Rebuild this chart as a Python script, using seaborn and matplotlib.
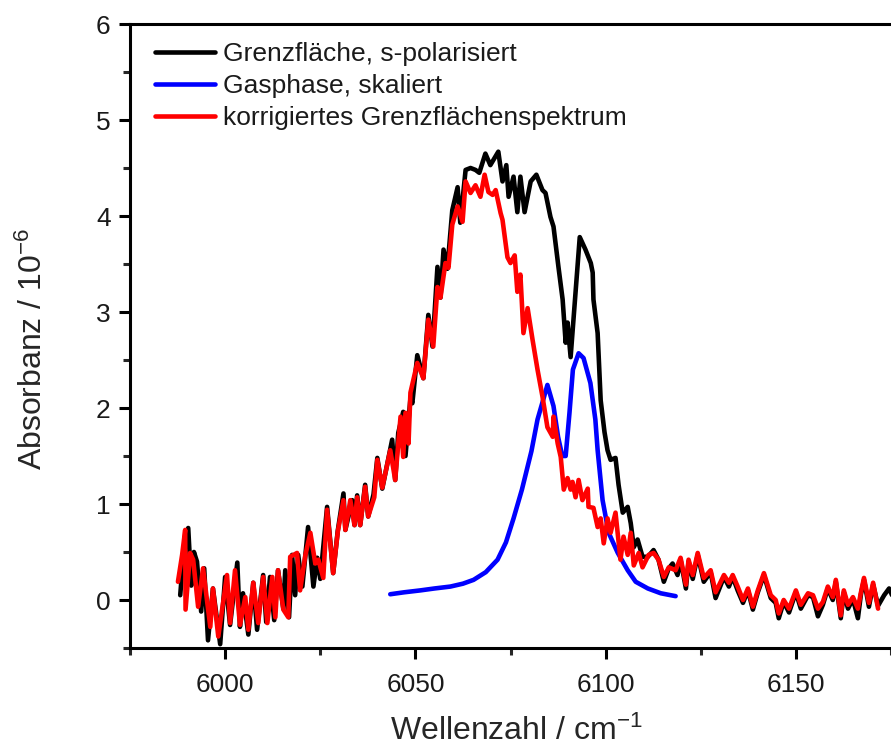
import numpy as np
import pandas as pd
import matplotlib
matplotlib.use("Agg")
import matplotlib.pyplot as plt
from matplotlib.ticker import MultipleLocator
import seaborn as sns

# Interface spectrum, s-polarised (wavenumber / cm^-1, absorbance / 1e-6)
wn_interface = [
    5988.2, 5989.0, 5990.3, 5991.1, 5991.8, 5992.6, 5993.7, 5994.5, 5995.5, 5996.8,
    5998.7, 6000.0, 6001.3, 6003.2, 6003.9, 6004.7, 6006.1, 6007.4, 6008.4, 6010.0,
    6010.8, 6011.8, 6012.9, 6013.9, 6015.3, 6015.8, 6016.8, 6017.6, 6018.4, 6019.2,
    6020.3, 6021.8, 6023.2, 6024.2, 6025.0, 6026.8, 6028.4, 6029.6, 6031.1, 6031.6,
    6033.4, 6034.0, 6034.7, 6035.5, 6036.8, 6037.6, 6039.0, 6040.0, 6041.3, 6043.9,
    6044.7, 6045.5, 6046.8, 6047.4, 6048.7, 6049.2, 6050.5, 6052.1, 6053.4, 6054.5,
    6055.8, 6056.6, 6057.4, 6058.4, 6059.7, 6061.1, 6061.8, 6063.2, 6064.5, 6065.8,
    6066.8, 6068.4, 6069.7, 6071.8, 6072.9, 6073.9, 6074.5, 6075.8, 6076.8, 6077.6,
    6078.7, 6080.3, 6081.8, 6083.4, 6084.2, 6085.5, 6086.3, 6087.6, 6088.7, 6089.5,
    6090.0, 6090.8, 6091.6, 6093.2, 6094.7, 6096.1, 6096.6, 6096.8, 6097.9, 6098.7,
    6099.7, 6100.5, 6101.3, 6102.6, 6103.4, 6104.5, 6105.8, 6106.6, 6107.4, 6108.4,
    6109.7, 6111.1, 6112.6, 6113.9, 6115.3, 6116.6, 6117.6, 6118.9, 6119.7, 6121.1,
    6121.8, 6122.9, 6124.2, 6125.8, 6127.6, 6128.9, 6131.1, 6132.4, 6133.4, 6134.7,
    6136.1, 6137.4, 6138.7, 6140.0, 6141.6, 6143.4, 6144.7, 6145.5, 6146.8, 6148.2,
    6150.0, 6151.3, 6153.2, 6154.5, 6155.8, 6157.1, 6158.4, 6159.7, 6160.5, 6161.8,
    6162.6, 6163.7, 6165.0, 6166.3, 6167.1, 6167.9, 6169.2, 6170.3, 6171.6, 6173.2,
    6174.5, 6175.5,
]
abs_interface = [
    0.05, 0.45, 0.75, 0.15, 0.50, 0.40, -0.12, 0.33, -0.42, 0.12,
    -0.46, 0.24, -0.26, 0.39, -0.28, 0.07, -0.36, 0.18, -0.31, 0.26,
    -0.23, 0.24, -0.21, 0.31, -0.09, 0.31, -0.18, 0.47, 0.05, 0.47,
    0.14, 0.76, 0.14, 0.44, 0.22, 0.97, 0.28, 0.72, 1.11, 0.73,
    1.04, 0.78, 1.09, 0.78, 1.20, 0.87, 1.10, 1.48, 1.16, 1.67,
    1.25, 1.74, 1.96, 1.50, 2.10, 2.05, 2.55, 2.31, 2.97, 2.64,
    3.47, 3.15, 3.65, 3.45, 4.06, 4.30, 3.93, 4.48, 4.50, 4.48,
    4.45, 4.65, 4.53, 4.67, 4.36, 4.53, 4.20, 4.41, 4.04, 4.41,
    4.04, 4.36, 4.43, 4.27, 4.24, 3.99, 3.89, 3.47, 3.13, 2.68,
    2.89, 2.53, 2.95, 3.78, 3.65, 3.51, 3.41, 3.13, 2.78, 2.08,
    1.75, 1.56, 1.46, 1.48, 1.20, 0.91, 0.97, 0.80, 0.55, 0.63,
    0.45, 0.45, 0.52, 0.42, 0.19, 0.33, 0.38, 0.26, 0.42, 0.12,
    0.40, 0.22, 0.47, 0.19, 0.29, 0.02, 0.24, 0.14, 0.24, 0.10,
    -0.03, 0.10, -0.10, 0.08, 0.26, 0.02, -0.03, -0.19, -0.02, -0.13,
    0.08, -0.09, 0.05, 0.03, -0.17, -0.05, 0.12, 0.00, 0.19, -0.19,
    0.08, -0.09, 0.01, -0.19, 0.06, 0.21, -0.07, 0.16, -0.06, 0.05,
    0.12, 0.03,
]

# Gas-phase spectrum, scaled
wn_gas = [
    6043.4, 6047.0, 6051.3, 6055.0, 6059.2, 6062.5, 6065.3, 6068.5, 6071.6, 6073.8,
    6075.8, 6078.0, 6079.5, 6080.5, 6082.1, 6083.7, 6084.7, 6086.3, 6087.5, 6088.6,
    6089.5, 6090.5, 6091.4, 6092.9, 6094.2, 6096.0, 6097.3, 6097.9, 6099.2, 6100.8,
    6103.2, 6105.8, 6107.9, 6111.1, 6114.5, 6118.4,
]
abs_gas = [
    0.06, 0.08, 0.10, 0.12, 0.14, 0.17, 0.21, 0.29, 0.42, 0.60,
    0.85, 1.15, 1.39, 1.55, 1.88, 2.10, 2.24, 2.02, 1.70, 1.50,
    1.50, 1.95, 2.40, 2.57, 2.52, 2.26, 1.88, 1.56, 1.04, 0.70,
    0.49, 0.31, 0.19, 0.12, 0.07, 0.04,
]

# Corrected interface spectrum
wn_corrected = [
    5987.6, 5988.7, 5989.5, 5989.6, 5990.8, 5991.6, 5992.9, 5994.2, 5996.1, 5996.8,
    5998.2, 6000.5, 6001.3, 6002.6, 6003.9, 6005.3, 6006.1, 6007.4, 6008.7, 6010.0,
    6011.1, 6012.4, 6013.2, 6013.9, 6015.3, 6016.6, 6017.1, 6018.9, 6019.7, 6021.1,
    6022.4, 6023.7, 6024.5, 6025.8, 6026.8, 6028.4, 6029.6, 6031.1, 6031.6, 6032.9,
    6034.0, 6034.7, 6035.5, 6036.8, 6037.6, 6039.2, 6040.0, 6041.3, 6043.4, 6044.7,
    6046.1, 6046.8, 6047.4, 6048.2, 6048.7, 6050.5, 6052.1, 6053.4, 6054.7, 6055.8,
    6056.6, 6057.9, 6058.7, 6059.7, 6061.1, 6062.4, 6063.2, 6064.5, 6065.8, 6067.1,
    6068.2, 6069.2, 6070.3, 6071.1, 6072.4, 6072.9, 6074.2, 6075.0, 6076.1, 6076.8,
    6077.6, 6078.4, 6079.5, 6080.8, 6082.1, 6083.4, 6084.2, 6084.7, 6086.1, 6086.3,
    6087.4, 6088.2, 6089.0, 6090.0, 6090.8, 6091.3, 6092.1, 6092.9, 6093.9, 6095.3,
    6095.5, 6096.8, 6097.9, 6098.7, 6099.5, 6100.5, 6101.3, 6102.6, 6103.9, 6104.7,
    6105.8, 6106.6, 6107.4, 6108.7, 6109.7, 6111.3, 6112.6, 6113.9, 6115.3, 6116.6,
    6118.4, 6119.7, 6121.1, 6121.8, 6122.9, 6124.2, 6125.8, 6127.6, 6128.9, 6131.1,
    6132.4, 6133.4, 6134.7, 6136.1, 6137.4, 6138.7, 6140.0, 6141.6, 6143.4, 6144.7,
    6145.5, 6146.8, 6148.2, 6150.0, 6151.3, 6153.2, 6154.5, 6155.8, 6157.1, 6158.4,
    6159.7, 6160.5, 6161.8, 6162.6, 6163.7, 6165.0, 6166.3, 6167.1, 6167.9, 6169.2,
    6170.3, 6171.6,
]
abs_corrected = [
    0.19, 0.47, 0.73, -0.10, 0.49, 0.42, -0.07, 0.33, -0.28, 0.12,
    -0.38, 0.26, -0.24, 0.31, -0.26, 0.03, -0.31, 0.18, -0.24, 0.24,
    -0.24, 0.24, -0.18, 0.31, -0.10, -0.18, 0.45, 0.49, 0.10, 0.47,
    0.70, 0.38, 0.42, 0.23, 0.94, 0.28, 0.71, 1.04, 0.73, 1.04,
    0.78, 1.07, 0.78, 1.18, 0.87, 1.07, 1.46, 1.17, 1.56, 1.25,
    1.91, 1.49, 1.95, 1.63, 2.16, 2.47, 2.31, 2.92, 2.64, 3.26,
    3.15, 3.51, 3.46, 3.91, 4.10, 3.94, 4.36, 4.24, 4.32, 4.20,
    4.43, 4.25, 4.22, 4.27, 4.03, 3.96, 3.57, 3.51, 3.59, 3.21,
    3.39, 2.78, 3.04, 2.71, 2.40, 2.12, 1.92, 1.80, 1.70, 1.91,
    1.63, 1.49, 1.15, 1.27, 1.15, 1.23, 1.07, 1.25, 1.04, 1.16,
    0.97, 0.96, 0.76, 0.85, 0.59, 0.85, 0.70, 0.91, 0.42, 0.66,
    0.47, 0.70, 0.36, 0.49, 0.34, 0.47, 0.49, 0.42, 0.24, 0.34,
    0.31, 0.44, 0.16, 0.42, 0.26, 0.49, 0.23, 0.31, 0.08, 0.26,
    0.18, 0.26, 0.14, 0.00, 0.12, -0.07, 0.10, 0.28, 0.05, 0.00,
    -0.14, 0.00, -0.09, 0.10, -0.05, 0.07, 0.05, -0.09, -0.02, 0.14,
    0.03, 0.21, -0.16, 0.10, -0.05, 0.03, -0.09, 0.08, 0.23, -0.03,
    0.18, -0.09,
]

labels = [
    "Grenzfläche, s-polarisiert",
    "Gasphase, skaliert",
    "korrigiertes Grenzflächenspektrum",
]
colors = ["#000000", "#0000ff", "#ff0000"]

frames = [
    pd.DataFrame({"Wellenzahl": wn_interface, "Absorbanz": abs_interface, "Spektrum": labels[0]}),
    pd.DataFrame({"Wellenzahl": wn_gas, "Absorbanz": abs_gas, "Spektrum": labels[1]}),
    pd.DataFrame({"Wellenzahl": wn_corrected, "Absorbanz": abs_corrected, "Spektrum": labels[2]}),
]
data = pd.concat(frames, ignore_index=True)

sns.set_style("ticks")
plt.rcParams["font.family"] = ["Liberation Sans", "DejaVu Sans"]
plt.rcParams["mathtext.fontset"] = "custom"
plt.rcParams["mathtext.rm"] = "Liberation Sans"
plt.rcParams["mathtext.it"] = "Liberation Sans"
plt.rcParams["text.color"] = "#1a1a1a"

fig = plt.figure(figsize=(8.91, 7.53), dpi=100)
ax = fig.add_axes([130 / 891, 1 - 648 / 753, 1 - 130 / 891, (648 - 24) / 753])

sns.lineplot(
    data=data, x="Wellenzahl", y="Absorbanz", hue="Spektrum",
    hue_order=labels, palette=colors, sort=False, estimator=None,
    linewidth=3.3, ax=ax,
)

ax.set_xlim(5975, 6175)
ax.set_ylim(-0.5, 6)
ax.xaxis.set_major_locator(MultipleLocator(50))
ax.xaxis.set_minor_locator(MultipleLocator(25))
ax.yaxis.set_major_locator(MultipleLocator(1))
ax.yaxis.set_minor_locator(MultipleLocator(0.5))

for side in ["left", "bottom", "top"]:
    ax.spines[side].set_linewidth(2.2)
    ax.spines[side].set_color("black")
ax.spines["right"].set_visible(False)

ax.tick_params(axis="both", which="major", direction="out", length=8, width=2.2,
               labelsize=19, colors="black", labelcolor="#1a1a1a")
ax.tick_params(axis="x", which="major", pad=10)
ax.tick_params(axis="y", which="major", pad=6)
ax.tick_params(axis="both", which="minor", direction="out", length=5, width=2.2)
ax.tick_params(top=False, right=False, which="both")

ax.set_xlabel("Wellenzahl / cm$^{-1}$", fontsize=23)
ax.set_ylabel("Absorbanz / 10$^{-6}$", fontsize=23)
ax.xaxis.set_label_coords(0.507, -0.108)
ax.yaxis.set_label_coords(-0.106, 0.48)

ax.legend(loc="upper left", frameon=False, fontsize=19, handlelength=2.3,
          handletextpad=0.3, labelspacing=0.3, borderaxespad=0.3,
          bbox_to_anchor=(0.008, 1.0))

fig.savefig("out.png", dpi=100)
